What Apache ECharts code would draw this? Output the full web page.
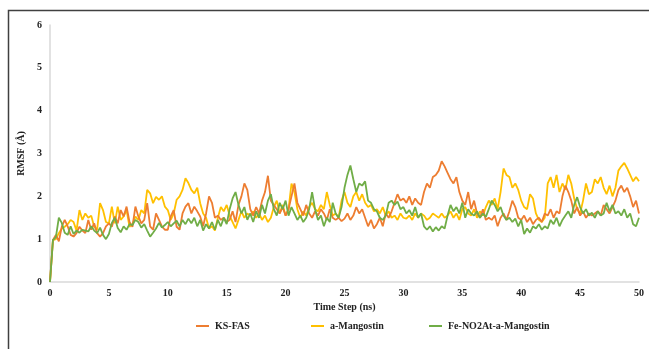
<!DOCTYPE html>
<html><head><meta charset="utf-8">
<script src="https://cdn.jsdelivr.net/npm/echarts@6/dist/echarts.min.js"></script>
<style>html,body{margin:0;padding:0;background:#fff}#c{width:649px;height:349px}</style>
</head><body><div id="c"></div>
<script>
// time step between samples (ns); first sample at 0 ns
const timeStep = 0.25;
const seriesNames = ['KS-FAS', 'a-Mangostin', 'Fe-NO2At-a-Mangostin'];
const xTicks = [0,5,10,15,20,25,30,35,40,45,50];
const yTicks = [0,1,2,3,4,5,6];

const ksFas = [0,
0.98,1.1,0.95,1.29, 1.45,1.3,1.1,1.06, 1.14,1.29,1.2,1.14, 1.45,1.22,1.37,1.14, 1.06,1.14,1.3,1.37,
1.29,1.53,1.37,1.68, 1.53,1.76,1.4,1.29, 1.76,1.53,1.37,1.45, 1.84,1.3,1.22,1.6, 1.45,1.3,1.22,1.22,
1.53,1.68,1.29,1.22, 1.6,1.76,1.84,1.6, 1.76,1.65,1.53,1.3, 1.6,2.0,1.85,1.5, 1.55,1.45,1.5,1.4,
1.45,1.65,1.4,1.8, 2.0,2.3,2.15,1.7, 1.55,1.75,1.6,1.9, 2.1,2.48,1.9,1.8, 1.7,1.6,1.75,1.55,
1.7,2.0,2.3,1.85, 1.7,1.55,1.8,1.6, 1.5,1.65,1.55,1.7, 1.6,1.45,1.7,1.5, 1.45,1.5,1.42,1.48,
1.6,1.45,1.55,1.75, 1.6,1.7,1.5,1.3, 1.45,1.25,1.35,1.5, 1.3,1.6,1.5,1.65, 1.85,2.05,1.9,1.95,
1.85,2.0,1.8,1.95, 1.85,1.8,2.1,2.3, 2.2,2.45,2.5,2.6, 2.82,2.7,2.55,2.4, 2.3,2.45,2.1,1.9,
1.8,2.1,1.7,1.9, 1.6,1.5,1.7,1.45, 1.5,1.45,1.55,1.3, 1.5,1.6,1.45,1.65, 1.9,1.75,1.5,1.45,
1.55,1.4,1.5,1.35, 1.45,1.5,1.4,1.6, 1.55,1.7,1.5,1.65, 1.6,2.0,2.25,2.1, 1.9,1.6,1.75,1.55,
1.65,1.5,1.6,1.55, 1.6,1.65,1.55,1.8, 1.7,1.6,1.75,1.9, 2.15,2.25,2.1,2.2, 2.0,1.75,1.9,1.6];

const aMangostin = [0,
0.98,1.0,1.14,1.25, 1.29,1.35,1.45,1.4, 1.2,1.68,1.45,1.6, 1.5,1.55,1.29,1.22, 1.84,1.68,1.4,1.37,
1.76,1.37,1.76,1.45, 1.53,1.68,1.29,1.35, 1.53,1.45,1.68,1.6, 2.15,2.07,1.84,1.99, 1.92,2.0,1.76,1.68,
1.45,1.6,1.92,2.0, 2.15,2.42,2.31,2.15, 2.07,2.2,1.84,1.6, 1.5,1.25,1.3,1.2, 1.5,1.75,1.65,1.8,
1.55,1.4,1.25,1.45, 1.65,1.5,1.6,1.55, 1.65,1.5,1.6,1.45, 1.55,1.4,1.5,1.75, 1.9,1.6,1.8,1.55,
1.7,2.3,2.1,1.7, 1.5,1.65,1.55,1.75, 1.85,1.7,1.65,1.8, 1.7,2.1,1.8,1.55, 1.6,1.5,1.9,2.1,
1.85,1.75,2.0,2.1, 1.9,2.05,1.85,1.75, 1.8,1.65,1.7,1.6, 1.75,1.55,1.65,1.5, 1.55,1.45,1.6,1.5,
1.48,1.55,1.45,1.6, 1.5,1.6,1.55,1.45, 1.5,1.6,1.55,1.5, 1.6,1.5,1.55,1.65, 1.5,1.6,1.45,1.7,
1.75,1.6,1.55,1.7, 1.5,1.65,1.55,1.75, 1.9,1.8,1.95,1.7, 2.1,2.65,2.5,2.45, 2.2,2.3,2.15,1.9,
1.75,1.7,2.05,1.95, 1.6,1.45,1.4,1.5, 2.3,2.45,2.2,2.5, 2.1,2.3,2.15,2.5, 2.3,1.95,1.7,1.6,
1.9,2.3,2.05,2.1, 2.4,2.3,2.45,2.2, 2.05,2.25,2.0,2.2, 2.6,2.7,2.78,2.65, 2.5,2.35,2.45,2.35];

const feNO2At = [0,
0.98,1.05,1.5,1.38, 1.15,1.1,1.3,1.12, 1.2,1.15,1.22,1.2, 1.18,1.3,1.2,1.14, 1.27,1.1,1.0,1.12,
1.38,1.5,1.26,1.16, 1.3,1.22,1.35,1.33, 1.45,1.4,1.27,1.35, 1.2,1.06,1.15,1.25, 1.38,1.27,1.33,1.4,
1.3,1.37,1.43,1.3, 1.45,1.35,1.48,1.37, 1.5,1.3,1.45,1.2, 1.35,1.25,1.4,1.22, 1.45,1.3,1.5,1.35,
1.7,1.95,2.1,1.8, 1.6,1.75,1.45,1.6, 1.4,1.65,1.5,1.8, 1.6,1.9,2.05,1.7, 1.55,1.85,1.7,1.9,
1.55,1.75,1.6,1.45, 1.55,1.4,1.5,1.7, 2.1,1.7,1.45,1.55, 1.3,1.5,1.4,1.85, 1.6,1.5,1.75,2.2,
2.5,2.72,2.4,2.1, 2.3,2.25,2.35,1.9, 1.85,1.7,1.65,1.5, 1.45,1.55,1.85,1.9, 1.8,1.88,1.7,1.75,
1.6,1.68,1.55,1.75, 1.5,1.6,1.3,1.22, 1.3,1.18,1.28,1.2, 1.3,1.25,1.55,1.8, 1.65,1.75,1.6,1.85,
1.5,1.7,1.6,1.55, 1.65,1.5,1.6,1.52, 1.7,1.9,1.8,1.65, 1.75,1.55,1.45,1.5, 1.4,1.48,1.3,1.45,
1.12,1.25,1.15,1.3, 1.25,1.35,1.22,1.3, 1.25,1.45,1.35,1.5, 1.3,1.45,1.55,1.65, 1.5,1.8,1.98,1.75,
1.6,1.7,1.55,1.62, 1.5,1.65,1.55,1.6, 1.85,1.65,1.8,1.6, 1.65,1.55,1.7,1.5, 1.6,1.35,1.3,1.5];

const colors = ['#ED7D31', '#FFC000', '#70AD47'];
const toPairs = arr => arr.map((v, i) => [i * timeStep, v]);
const font = '"Liberation Serif", "Times New Roman", serif';
const legendLefts = [191, 306, 424];

const legendCommon = {
  top: 316, itemGap: 0, itemWidth: 13, itemHeight: 2, icon: 'rect',
  textStyle: { fontFamily: font, fontWeight: 'bold', fontSize: 10, color: '#222', padding: [0, 0, 0, 1] }
};

const chart = echarts.init(document.getElementById('c'));
chart.setOption({
  animation: false,
  backgroundColor: '#fff',
  color: colors,
  grid: { left: 50, right: 10, top: 25, bottom: 67, containLabel: false },
  graphic: [
    { type: 'polyline', shape: { points: [[8.5, 349], [8.5, 10.5], [649, 10.5]] },
      style: { stroke: '#404040', lineWidth: 1.5, fill: null } }
  ],
  legend: seriesNames.map((n, i) => Object.assign({}, legendCommon, { left: legendLefts[i], data: [n] })),
  xAxis: {
    type: 'value', min: 0, max: 50, interval: 5,
    name: 'Time Step (ns)', nameLocation: 'middle', nameGap: 16,
    nameTextStyle: { fontFamily: font, fontWeight: 'bold', fontSize: 10, color: '#222' },
    axisLine: { show: true, lineStyle: { color: '#d9d9d9', width: 1.5 } },
    axisTick: { show: false }, splitLine: { show: false },
    axisLabel: { fontFamily: font, fontWeight: 'bold', fontSize: 10, color: '#222', margin: 6,
      formatter: v => xTicks.includes(v) ? String(v) : '' }
  },
  yAxis: {
    type: 'value', min: 0, max: 6, interval: 1,
    name: 'RMSF (Å)', nameLocation: 'middle', nameGap: 18, nameRotate: 90,
    nameTextStyle: { fontFamily: font, fontWeight: 'bold', fontSize: 10, color: '#222' },
    axisLine: { show: true, lineStyle: { color: '#d9d9d9', width: 1.5 } },
    axisTick: { show: false }, splitLine: { show: false },
    axisLabel: { fontFamily: font, fontWeight: 'bold', fontSize: 10, color: '#222', margin: 8,
      formatter: v => yTicks.includes(v) ? String(v) : '' }
  },
  series: [
    { name: seriesNames[0], type: 'line', data: toPairs(ksFas), showSymbol: false, lineStyle: { width: 1.8 }, z: 2 },
    { name: seriesNames[1], type: 'line', data: toPairs(aMangostin), showSymbol: false, lineStyle: { width: 1.8 }, z: 1 },
    { name: seriesNames[2], type: 'line', data: toPairs(feNO2At), showSymbol: false, lineStyle: { width: 1.8 }, z: 3 }
  ]
});
</script></body></html>
